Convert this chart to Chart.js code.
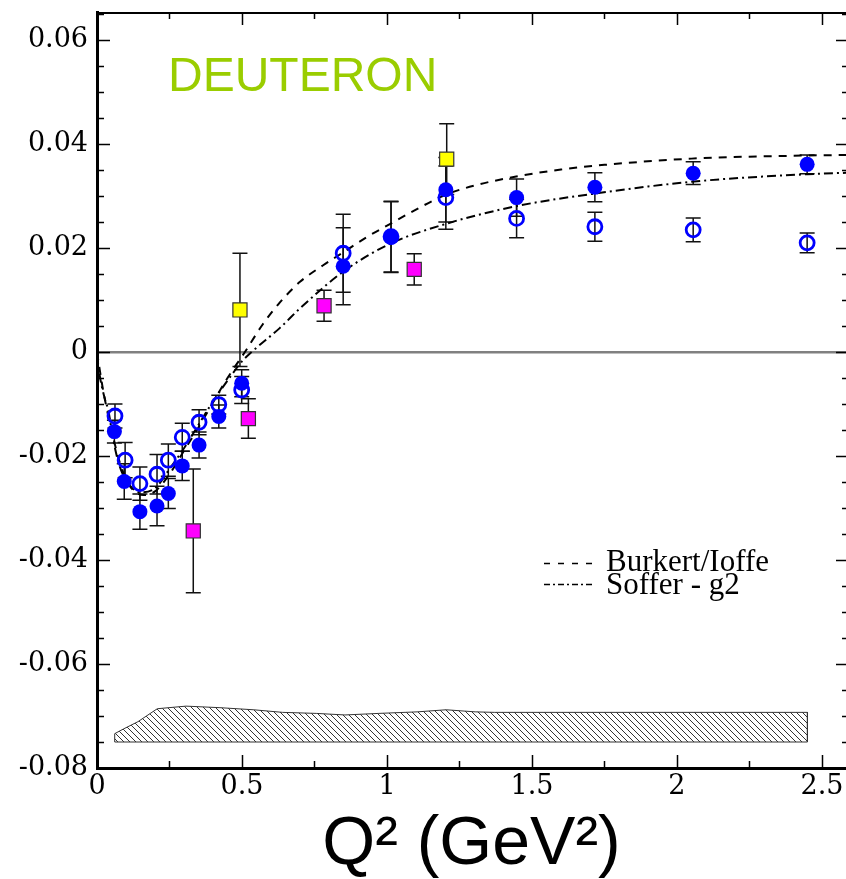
<!DOCTYPE html>
<html>
<head>
<meta charset="utf-8">
<script src="https://cdn.jsdelivr.net/npm/chart.js@4.4.0/dist/chart.umd.min.js"></script>
<style>
  html, body { margin: 0; padding: 0; background: #fff; overflow: hidden; }
  canvas { display: block; }
</style>
</head>
<body>
<canvas id="g2chart" width="846" height="879"></canvas>
<script>
// filled circles
const fullQ2 = [0.060, 0.094, 0.148, 0.207, 0.246, 0.294, 0.352, 0.420, 0.499, 0.849, 1.014, 1.203, 1.447, 1.717, 2.056, 2.449];
const fullG = [-0.0153, -0.0249, -0.0307, -0.0296, -0.0272, -0.0219, -0.0179, -0.0124, -0.0060, 0.0165, 0.0221, 0.0312, 0.0297, 0.0317, 0.0344, 0.0361];
const fullErr = [0.0022, 0.0034, 0.0034, 0.0038, 0.0029, 0.0028, 0.0025, 0.0022, 0.0026, 0.0074, 0.0068, 0.0062, 0.0036, 0.0028, 0.0022, 0.0018];

// open circles
const openQ2 = [0.062, 0.097, 0.148, 0.207, 0.246, 0.294, 0.352, 0.420, 0.499, 0.849, 1.014, 1.203, 1.447, 1.717, 2.056, 2.449];
const openG = [-0.0123, -0.0208, -0.0253, -0.0235, -0.0208, -0.0164, -0.0135, -0.0101, -0.0073, 0.0190, 0.0222, 0.0297, 0.0257, 0.0241, 0.0235, 0.0210];
const openErr = [0.0023, 0.0034, 0.0032, 0.0038, 0.0031, 0.0027, 0.0024, 0.0018, 0.0026, 0.0075, 0.0068, 0.0061, 0.0037, 0.0028, 0.0023, 0.0019];

// magenta squares
const magQ2 = [0.332, 0.522, 0.783, 1.094];
const magG = [-0.0344, -0.0128, 0.0089, 0.0159];
const magErr = [0.0119, 0.0038, 0.0030, 0.0030];

// yellow squares
const yelQ2 = [0.493, 1.206];
const yelG = [0.0081, 0.0371];
const yelErr = [0.0109, 0.0068];

// Burkert/Ioffe curve
const bkQ2 = [0, 0.02, 0.05, 0.08, 0.11, 0.16, 0.2, 0.25, 0.3, 0.35, 0.4, 0.45, 0.51, 0.57, 0.63, 0.7, 0.78, 0.85, 0.93, 1.01, 1.1, 1.2, 1.3, 1.45, 1.6, 1.75, 2.05, 2.45, 2.6];
const bkG = [0, -0.007, -0.015, -0.0215, -0.0255, -0.0275, -0.0268, -0.0235, -0.019, -0.0145, -0.0097, -0.005, 0, 0.0052, 0.0095, 0.0135, 0.0167, 0.0192, 0.0221, 0.0246, 0.0274, 0.0302, 0.0320, 0.0338, 0.0351, 0.0360, 0.0372, 0.0378, 0.0379];

// Soffer - g2 curve
const sfQ2 = [0, 0.01, 0.028, 0.039, 0.056, 0.079, 0.108, 0.15, 0.2, 0.25, 0.3, 0.35, 0.4, 0.45, 0.5, 0.533, 0.63, 0.7, 0.85, 1.01, 1.2, 1.45, 1.72, 2.06, 2.45, 2.6];
const sfG = [-0.0005, -0.0047, -0.0092, -0.0112, -0.0169, -0.0221, -0.0253, -0.027, -0.0262, -0.0225, -0.0185, -0.014, -0.0095, -0.0055, -0.0018, 0, 0.0046, 0.0084, 0.0155, 0.0208, 0.0246, 0.0281, 0.0305, 0.0328, 0.0342, 0.0345];

// systematic error band
const sysQ2 = [0.061, 0.091, 0.141, 0.208, 0.307, 0.424, 0.54, 0.64, 0.756, 0.855, 0.972, 1.105, 1.204, 1.304, 1.37, 2.45];
const sysTop = [-0.0734, -0.0725, -0.0711, -0.0686, -0.0681, -0.0684, -0.0688, -0.0693, -0.0695, -0.0698, -0.0695, -0.0692, -0.0688, -0.0692, -0.0693, -0.0693];
const sysBase = -0.0750;

// ticks
const xTicks = [0, 0.5, 1, 1.5, 2, 2.5];
const xTickText = ['0', '0.5', '1', '1.5', '2', '2.5'];
const yTicks = [-0.08, -0.06, -0.04, -0.02, 0, 0.02, 0.04, 0.06];
const yTickText = ['-0.08', '-0.06', '-0.04', '-0.02', '0', '0.02', '0.04', '0.06'];

const pts = (xs, ys) => xs.map((x, i) => ({ x: x, y: ys[i] }));

const bandPts = pts(sysQ2, sysTop).concat([
  { x: sysQ2[sysQ2.length - 1], y: sysBase },
  { x: sysQ2[0], y: sysBase },
  { x: sysQ2[0], y: sysTop[0] }
]);

function hatch() {
  const c = document.createElement('canvas');
  c.width = 6; c.height = 6;
  const g = c.getContext('2d');
  g.strokeStyle = '#333';
  g.lineWidth = 1;
  g.beginPath();
  g.moveTo(0, 0); g.lineTo(6, 6);
  g.moveTo(-1, 5); g.lineTo(1, 7);
  g.moveTo(5, -1); g.lineTo(7, 1);
  g.stroke();
  return g.createPattern(c, 'repeat');
}

// error bars, drawn before markers
const errorBars = {
  id: 'errorBars',
  beforeDatasetsDraw(chart) {
    const { ctx, scales: { x, y } } = chart;
    ctx.save();
    ctx.strokeStyle = '#111';
    ctx.lineWidth = 1.5;
    chart.data.datasets.forEach(ds => {
      if (!ds.errors) return;
      ds.data.forEach((p, i) => {
        const e = ds.errors[i];
        const px = x.getPixelForValue(p.x);
        const yt = y.getPixelForValue(p.y + e);
        const yb = y.getPixelForValue(p.y - e);
        ctx.beginPath();
        ctx.moveTo(px, yt); ctx.lineTo(px, yb);
        ctx.moveTo(px - 7.5, yt); ctx.lineTo(px + 7.5, yt);
        ctx.moveTo(px - 7.5, yb); ctx.lineTo(px + 7.5, yb);
        ctx.stroke();
      });
    });
    ctx.restore();
  }
};

// inward ticks, frame, label and legend
const decor = {
  id: 'decor',
  afterDraw(chart) {
    const { ctx, chartArea: a, scales: { x, y } } = chart;
    ctx.save();
    ctx.strokeStyle = '#000';
    ctx.lineWidth = 1.5;
    ctx.beginPath();
    for (let i = 0; i <= 29; i++) {
      const v = -0.08 + i * 0.005;
      if (v > y.max) break;
      const py = Math.round(y.getPixelForValue(v)) + 0.5;
      const len = i % 4 === 0 ? 13 : 7;
      ctx.moveTo(a.left, py); ctx.lineTo(a.left + len, py);
      ctx.moveTo(a.right + 3, py); ctx.lineTo(a.right + 3 - len, py);
    }
    for (let i = 0; i <= 10; i++) {
      const v = i * 0.25;
      if (v > x.max) break;
      const px = Math.round(x.getPixelForValue(v)) + 0.5;
      const len = i % 2 === 0 ? 13 : 7;
      ctx.moveTo(px, a.bottom); ctx.lineTo(px, a.bottom - len);
      ctx.moveTo(px, a.top); ctx.lineTo(px, a.top + len);
    }
    ctx.stroke();
    ctx.lineWidth = 2;
    ctx.beginPath();
    ctx.moveTo(a.left, a.top + 1); ctx.lineTo(a.right, a.top + 1);
    ctx.stroke();

    ctx.fillStyle = '#9acd00';
    ctx.font = '48px "Liberation Sans", Arial, sans-serif';
    ctx.textBaseline = 'alphabetic';
    ctx.fillText('DEUTERON', 168, 91);

    ctx.fillStyle = '#000';
    ctx.font = '31px "Liberation Serif", "Times New Roman", serif';
    ctx.fillText('Burkert/Ioffe', 606, 571);
    ctx.fillText('Soffer - g2', 606, 594);
    ctx.lineWidth = 1.3;
    ctx.setLineDash([6, 8]);
    ctx.beginPath(); ctx.moveTo(544, 563.5); ctx.lineTo(594, 563.5); ctx.stroke();
    ctx.setLineDash([6, 3, 2, 3]);
    ctx.beginPath(); ctx.moveTo(544, 584.5); ctx.lineTo(594, 584.5); ctx.stroke();
    ctx.restore();
  }
};

const serif = '"DejaVu Serif", serif';

new Chart(document.getElementById('g2chart'), {
  type: 'scatter',
  data: {
    datasets: [
      {
        label: 'full', data: pts(fullQ2, fullG), errors: fullErr,
        pointStyle: 'circle', pointRadius: 7.5, pointBackgroundColor: '#0000ff',
        pointBorderColor: '#0000ff', pointBorderWidth: 0
      },
      {
        label: 'open', data: pts(openQ2, openG), errors: openErr,
        pointStyle: 'circle', pointRadius: 7, pointBackgroundColor: 'rgba(0,0,0,0)',
        pointBorderColor: '#0000ff', pointBorderWidth: 2.8
      },
      {
        label: 'yellow', data: pts(yelQ2, yelG), errors: yelErr,
        pointStyle: 'rect', pointRadius: 10, pointBackgroundColor: '#ffff00',
        pointBorderColor: '#333', pointBorderWidth: 1.2
      },
      {
        label: 'magenta', data: pts(magQ2, magG), errors: magErr,
        pointStyle: 'rect', pointRadius: 10, pointBackgroundColor: '#ff00ff',
        pointBorderColor: '#333', pointBorderWidth: 1.2
      },
      {
        label: 'Burkert/Ioffe', data: pts(bkQ2, bkG), showLine: true,
        borderColor: '#000', borderWidth: 2, borderDash: [8, 7],
        pointRadius: 0, cubicInterpolationMode: 'monotone'
      },
      {
        label: 'Soffer - g2', data: pts(sfQ2, sfG), showLine: true,
        borderColor: '#000', borderWidth: 2, borderDash: [9, 4, 2, 4],
        pointRadius: 0, cubicInterpolationMode: 'monotone'
      },
      {
        label: 'syst', data: bandPts, showLine: true,
        borderColor: '#333', borderWidth: 1, pointRadius: 0,
        fill: 'shape', backgroundColor: hatch()
      }
    ]
  },
  options: {
    responsive: false,
    animation: false,
    devicePixelRatio: 1,
    layout: { autoPadding: false, padding: { top: 12, right: 0, left: 0, bottom: 0 } },
    plugins: { legend: { display: false }, tooltip: { enabled: false } },
    scales: {
      x: {
        type: 'linear', min: 0, max: 2.583,
        afterBuildTicks: s => { s.ticks = xTicks.map(v => ({ value: v })); },
        afterFit: s => { s.height = 111; s.paddingLeft = 0; s.paddingRight = 0; },
        ticks: {
          color: '#000', padding: 3, maxRotation: 0,
          font: { family: serif, size: 27 },
          callback: (v, i) => xTickText[i]
        },
        grid: { display: false, drawTicks: false },
        border: { display: true, color: '#000', width: 3 },
        title: {
          display: true, text: 'Q² (GeV²)', color: '#000',
          font: { family: '"Liberation Sans", Arial, sans-serif', size: 68, lineHeight: 1 },
          padding: { top: 0, bottom: 0 }
        }
      },
      y: {
        type: 'linear', min: -0.08, max: 0.0654,
        afterBuildTicks: s => { s.ticks = yTicks.map(v => ({ value: v })); },
        afterFit: s => { s.width = 97; s.paddingTop = 0; s.paddingBottom = 0; },
        ticks: {
          color: '#000', padding: 9,
          font: { family: serif, size: 27 },
          callback: (v, i) => yTickText[i]
        },
        grid: {
          drawTicks: false, lineWidth: 2.5,
          color: c => (c.tick && c.tick.value === 0 ? '#808080' : 'rgba(0,0,0,0)')
        },
        border: { display: true, color: '#000', width: 3 }
      }
    }
  },
  plugins: [errorBars, decor]
});
</script>
</body>
</html>
